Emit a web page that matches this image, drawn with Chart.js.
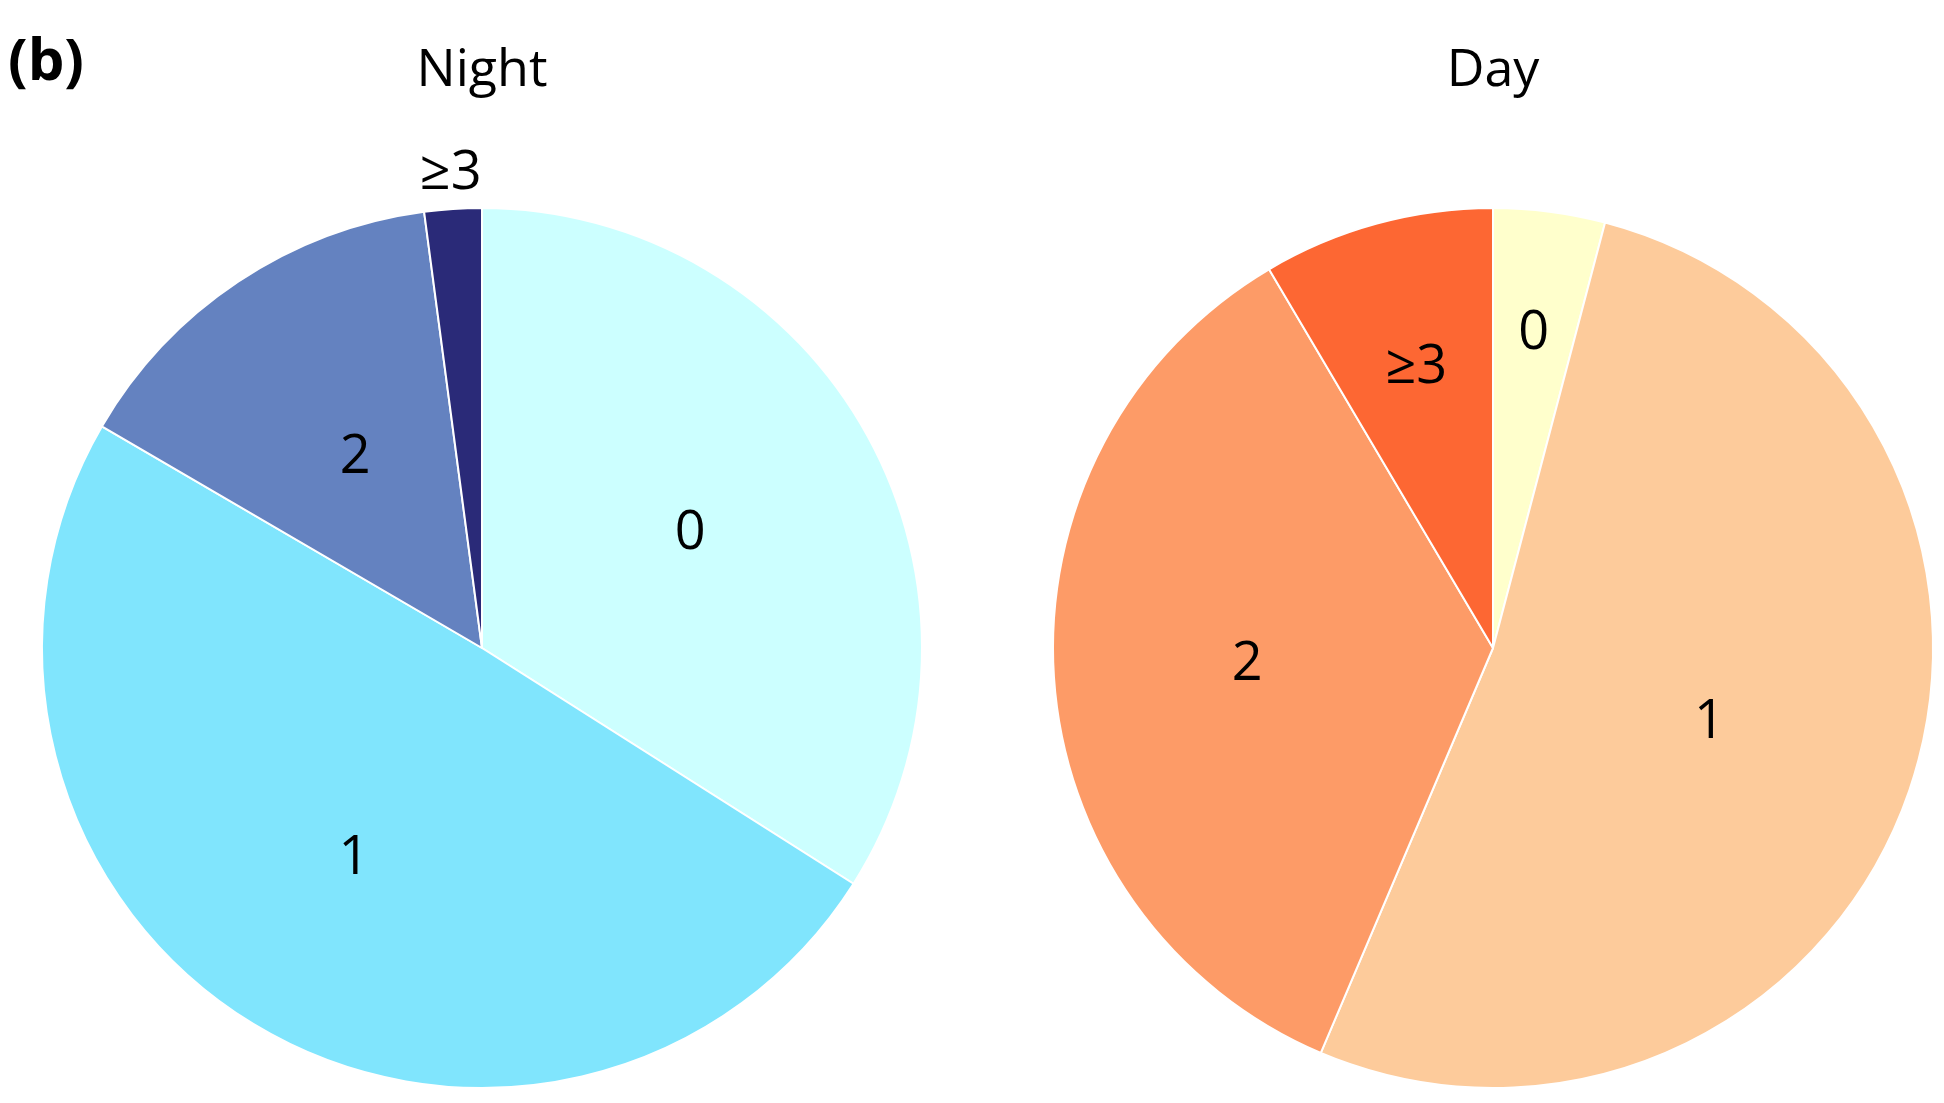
<!DOCTYPE html>
<html>
<head>
<meta charset="utf-8">
<script src="https://cdn.jsdelivr.net/npm/chart.js@4"></script>
<style>
  body { margin:0; width:1944px; height:1103px; background:#fff; overflow:hidden; position:relative; font-family:"Open Sans", sans-serif; }
  .t { position:absolute; font-size:52px; color:#000; }
  canvas { position:absolute; }
</style>
</head>
<body>
<div class="t" style="left:8px;top:18px;font-weight:bold;font-size:58px;">(b)</div>
<div class="t" style="left:482px;top:30px;transform:translateX(-50%);">Night</div>
<div class="t" style="left:1493px;top:30px;transform:translateX(-50%);">Day</div>
<canvas id="night" width="1000" height="1000" style="left:-18px;top:148px;"></canvas>
<canvas id="day" width="1000" height="1000" style="left:993px;top:148px;"></canvas>
<script>
const labels = ["0", "1", "2", "≥3"];
const nightValues = [34.0, 49.4, 14.5, 2.1];
const dayValues = [4.1, 52.3, 35.1, 8.5];
const nightColors = ["#CCFFFF", "#80E5FD", "#6482C0", "#2A2A78"];
const dayColors = ["#FFFFCC", "#FDCB9B", "#FD9B67", "#FD6733"];
// how far out (fraction of radius) each slice label sits
const nightLabelPos = [0.54, 0.56, 0.52, 1.08];
const dayLabelPos = [0.72, 0.52, 0.56, 0.66];

const sliceLabels = {
    id: 'sliceLabels',
    afterDatasetsDraw(chart, args, opts) {
        const ctx = chart.ctx;
        const meta = chart.getDatasetMeta(0);
        ctx.save();
        ctx.font = '54px "Open Sans", sans-serif';
        ctx.fillStyle = '#000';
        ctx.textAlign = 'center';
        ctx.textBaseline = 'middle';
        meta.data.forEach((arc, i) => {
            const mid = (arc.startAngle + arc.endAngle) / 2;
            const r = arc.outerRadius * opts.pos[i];
            ctx.fillText(chart.data.labels[i], arc.x + Math.cos(mid) * r, arc.y + Math.sin(mid) * r);
        });
        ctx.restore();
    }
};

function pie(id, values, colors, pos) {
    return new Chart(document.getElementById(id).getContext('2d'), {
        type: 'pie',
        data: {
            labels: labels,
            datasets: [{
                data: values,
                backgroundColor: colors,
                borderColor: '#fff',
                borderWidth: 2
            }]
        },
        options: {
            responsive: false,
            animation: false,
            layout: { padding: 59 },
            plugins: {
                legend: { display: false },
                tooltip: { enabled: false },
                sliceLabels: { pos: pos }
            }
        },
        plugins: [sliceLabels]
    });
}

pie('night', nightValues, nightColors, nightLabelPos);
pie('day', dayValues, dayColors, dayLabelPos);
</script>
</body>
</html>
